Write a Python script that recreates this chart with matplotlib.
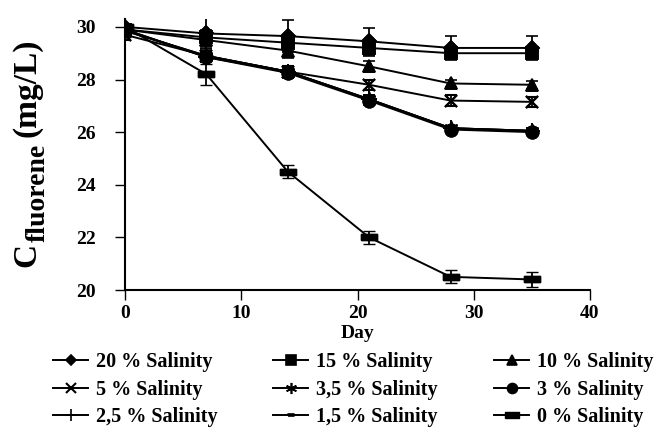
import matplotlib
matplotlib.use("Agg")
import matplotlib.pyplot as plt
import numpy as np

plt.rcParams['font.family'] = ['Liberation Serif', 'DejaVu Serif']

days = [0, 7, 14, 21, 28, 35]
labels = ['20 % Salinity', '15 % Salinity', '10 % Salinity',
          '5 % Salinity', '3,5 % Salinity', '3 % Salinity',
          '2,5 % Salinity', '1,5 % Salinity', '0 % Salinity']
s20 = [30.0, 29.75, 29.65, 29.45, 29.2, 29.2]
s15 = [29.9, 29.6, 29.4, 29.2, 29.0, 29.0]
s10 = [29.9, 29.5, 29.1, 28.5, 27.85, 27.8]
s5 = [29.7, 28.9, 28.3, 27.8, 27.2, 27.15]
s35 = [29.85, 28.9, 28.3, 27.25, 26.15, 26.05]
s3 = [29.9, 28.85, 28.25, 27.2, 26.1, 26.0]
s25 = [29.9, 28.85, 28.3, 27.25, 26.15, 26.05]
s15b = [29.85, 28.9, 28.3, 27.25, 26.15, 26.05]
s0 = [30.0, 28.2, 24.5, 22.0, 20.5, 20.4]
e20 = [0.35, 0.6, 0.6, 0.5, 0.45, 0.45]
e15 = [0.2, 0.3, 0.3, 0.3, 0.2, 0.2]
e10 = [0.2, 0.3, 0.3, 0.2, 0.15, 0.15]
e5 = [0.2, 0.2, 0.2, 0.2, 0.2, 0.2]
e35 = [0.2, 0.2, 0.2, 0.15, 0.1, 0.1]
e3 = [0.2, 0.2, 0.2, 0.15, 0.1, 0.1]
e25 = [0.2, 0.2, 0.2, 0.15, 0.1, 0.1]
e15b = [0.2, 0.2, 0.2, 0.15, 0.1, 0.1]
e0 = [0.4, 0.4, 0.25, 0.25, 0.25, 0.3]

rect_wide = [(-1, -0.4), (1, -0.4), (1, 0.4), (-1, 0.4), (-1, -0.4)]
rect_small = [(-1, -0.5), (1, -0.5), (1, 0.5), (-1, 0.5), (-1, -0.5)]
asterisk = (6, 2, 0)

series = [
    (s20, e20, 'D', 7, 1.2),
    (s15, e15, 's', 9, 1.2),
    (s10, e10, '^', 9, 1.2),
    (s5, e5, 'x', 9, 1.5),
    (s35, e35, asterisk, 10, 1.2),
    (s3, e3, 'o', 9, 1.2),
    (s25, e25, '+', 11, 1.2),
    (s15b, e15b, rect_small, 5, 1.2),
    (s0, e0, rect_wide, 12, 1.0),
]

W, H = 659, 432
fig = plt.figure(figsize=(W / 100, H / 100), dpi=100)
ax = fig.add_axes([125 / W, 1 - 290 / H, 465 / W, (290 - 19) / H])

handles = []
for (vals, errs, mk, ms, mew), lab in zip(series, labels):
    ax.errorbar(days, vals, yerr=errs, color='black', ecolor='black',
                elinewidth=1.3, capsize=4, capthick=1.3, lw=0, marker=mk,
                ms=ms, mew=mew, mfc='black', mec='black', zorder=3)
    h, = ax.plot(days, vals, color='black', lw=1.4, marker=mk, ms=ms,
                 mew=mew, mfc='black', mec='black', label=lab, zorder=2)
    handles.append(h)

ax.set_xlim(0, 40)
ax.set_ylim(20, 30.3)
ax.set_xticks([0, 10, 20, 30, 40])
ax.set_yticks([20, 22, 24, 26, 28, 30])
for s in ['top', 'right']:
    ax.spines[s].set_visible(False)
for s in ['left', 'bottom']:
    ax.spines[s].set_linewidth(1.5)
ax.tick_params(direction='out', length=7, width=1, labelsize=14)
ax.tick_params(axis='y', pad=14)
ax.tick_params(axis='x', pad=4)
for t in ax.get_xticklabels() + ax.get_yticklabels():
    t.set_fontweight('bold')
ax.set_xlabel('Day', fontsize=14, fontweight='bold', labelpad=2)

# legends, one per column, laid out row-wise
col_x = [53, 273, 494]
for c in range(3):
    hs = [handles[r * 3 + c] for r in range(3)]
    ls = [labels[r * 3 + c] for r in range(3)]
    fig.legend(hs, ls, loc='upper left',
               bbox_to_anchor=(col_x[c] / W, 1 - 352 / H),
               frameon=False, prop={'weight': 'bold', 'size': 14.5},
               handlelength=1.75, handletextpad=0.4, labelspacing=0.38,
               borderpad=0, borderaxespad=0, markerscale=0.8)

# y label built from pieces (large subscript)
fig.canvas.draw()
r = fig.canvas.get_renderer()
kw = dict(rotation=90, rotation_mode='anchor', ha='left', va='baseline',
          fontweight='bold')
t1 = fig.text(35 / W, 1 - 267 / H, 'C', fontsize=24, **kw)
bb = t1.get_window_extent(r)
t2 = fig.text(45 / W, (bb.y1 + 1) / H, 'fluorene', fontsize=20, **kw)
bb2 = t2.get_window_extent(r)
t3 = fig.text(35 / W, (bb2.y1 + 7) / H, '(mg/L)', fontsize=24, **kw)

fig.savefig('out.png', dpi=100)
